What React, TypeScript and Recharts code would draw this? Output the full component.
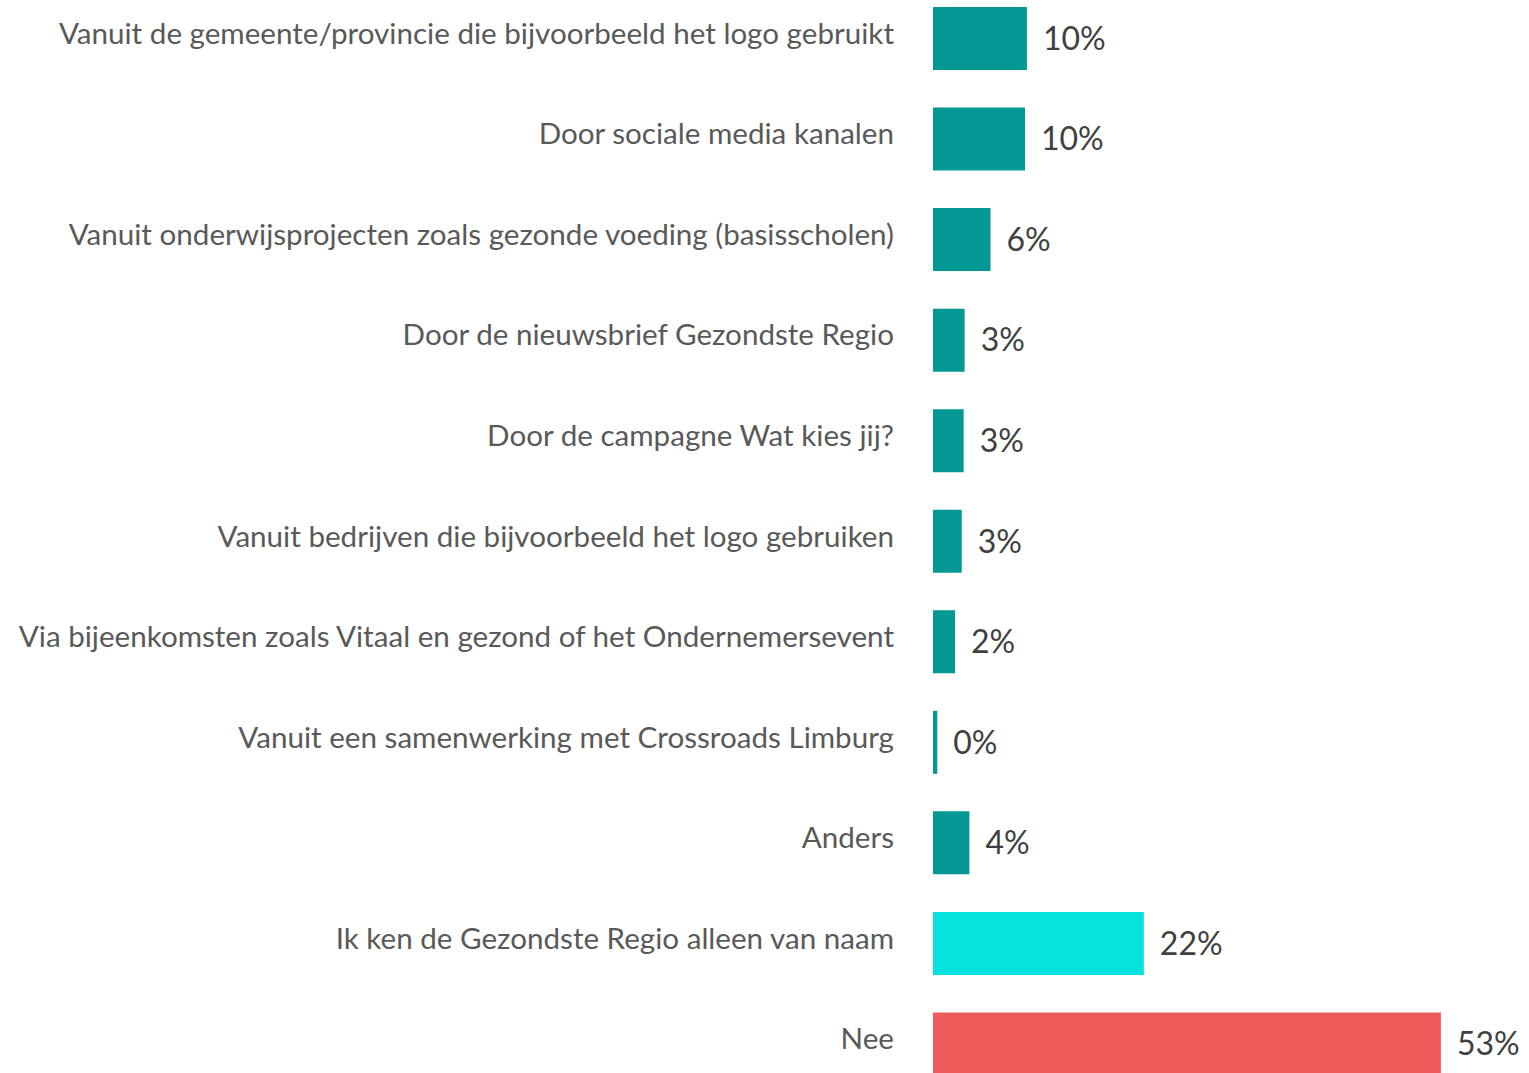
import { BarChart, Bar, XAxis, YAxis, Cell, LabelList } from 'recharts';

const categories = [
  'Vanuit de gemeente/provincie die bijvoorbeeld het logo gebruikt',
  'Door sociale media kanalen',
  'Vanuit onderwijsprojecten zoals gezonde voeding (basisscholen)',
  'Door de nieuwsbrief Gezondste Regio',
  'Door de campagne Wat kies jij?',
  'Vanuit bedrijven die bijvoorbeeld het logo gebruiken',
  'Via bijeenkomsten zoals Vitaal en gezond of het Ondernemersevent',
  'Vanuit een samenwerking met Crossroads Limburg',
  'Anders',
  'Ik ken de Gezondste Regio alleen van naam',
  'Nee',
];

const values = [9.8, 9.6, 6.0, 3.3, 3.2, 3.0, 2.3, 0.45, 3.8, 22.0, 53.0];

const barColors = [
  '#039893', '#039893', '#039893', '#039893', '#039893', '#039893',
  '#039893', '#039893', '#039893', '#06E3DE', '#ED5B5B',
];

const data = categories.map((name, i) => ({ name, value: values[i] }));

const FONT = 'Lato, "Open Sans", sans-serif';

function CategoryTick(props: any) {
  const { x, y, payload } = props;
  return (
    <text
      x={x + 6}
      y={y - 6}
      textAnchor="end"
      dominantBaseline="central"
      fill="#595959"
      fontFamily={FONT}
      fontSize={29.6}
    >
      {payload.value}
    </text>
  );
}

export default function App() {
  return (
    <div
      style={{
        position: 'absolute',
        top: 0,
        left: 0,
        width: 1529,
        height: 1073,
        overflow: 'hidden',
        background: '#fff',
      }}
    >
      <div style={{ position: 'absolute', top: -12, left: 0 }}>
        <BarChart
          width={1529}
          height={1106}
          data={data}
          layout="vertical"
          margin={{ top: 0, right: 21, bottom: 0, left: 0 }}
          barCategoryGap={19}
        >
          <XAxis type="number" domain={[0, 60]} hide />
          <YAxis
            type="category"
            dataKey="name"
            width={933}
            axisLine={false}
            tickLine={false}
            tickMargin={39}
            interval={0}
            tick={<CategoryTick />}
          />
          <Bar dataKey="value" isAnimationActive={false}>
            {data.map((d, i) => (
              <Cell key={d.name} fill={barColors[i]} />
            ))}
            <LabelList
              dataKey="value"
              position="right"
              offset={16}
              formatter={(v: number) => `${Math.round(v)}%`}
              style={{ fill: '#404040', fontFamily: FONT, fontSize: 32 }}
            />
          </Bar>
        </BarChart>
      </div>
    </div>
  );
}
